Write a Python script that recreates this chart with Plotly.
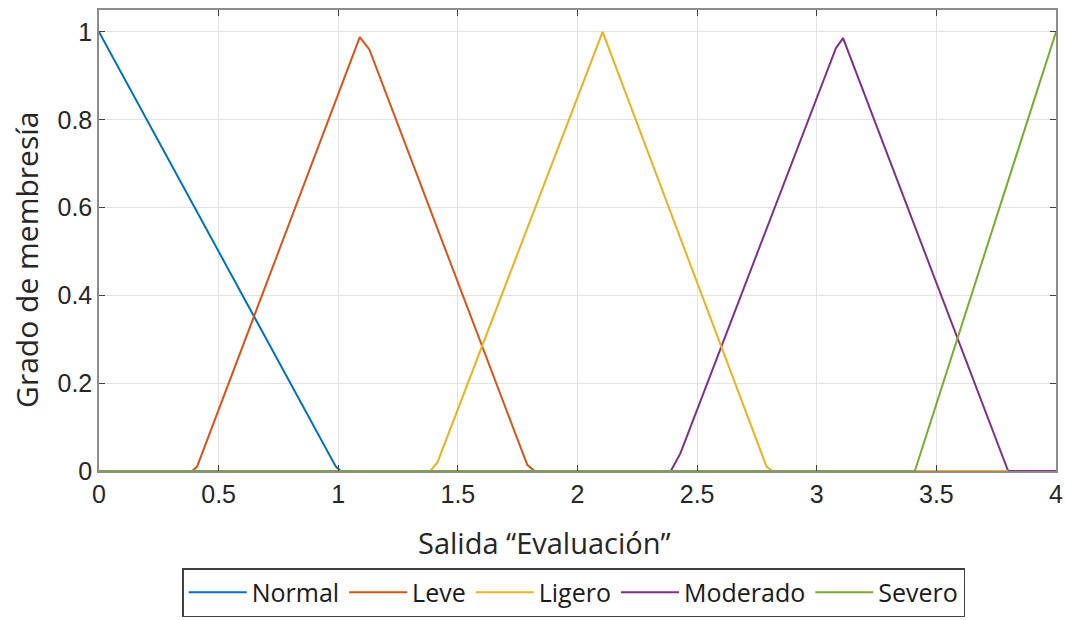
import plotly.graph_objects as go

# Membership functions of the output "Evaluación" (vertex points of each curve)
normal_x = [0.0, 0.99, 1.01, 4.0]
normal_y = [1.0, 0.01, 0.0, 0.0]

leve_x = [0.0, 0.39, 0.41, 1.09, 1.13, 1.79, 1.82, 4.0]
leve_y = [0.0, 0.0, 0.01, 0.988, 0.96, 0.014, 0.0, 0.0]

ligero_x = [0.0, 1.385, 1.415, 2.105, 2.79, 2.815, 3.8]
ligero_y = [0.0, 0.0, 0.02, 1.0, 0.01, 0.0, 0.0]

moderado_x = [0.0, 2.39, 2.43, 3.08, 3.11, 3.80, 4.0]
moderado_y = [0.0, 0.0, 0.04, 0.963, 0.986, 0.0, 0.0]

severo_x = [0.0, 3.41, 4.0]
severo_y = [0.0, 0.0, 1.0]

x_ticks = [0, 0.5, 1, 1.5, 2, 2.5, 3, 3.5, 4]
x_tick_text = ["0", "0.5", "1", "1.5", "2", "2.5", "3", "3.5", "4"]
y_ticks = [0, 0.2, 0.4, 0.6, 0.8, 1]
y_tick_text = ["0", "0.2", "0.4", "0.6", "0.8", "1"]

x_title = "Salida \u201cEvaluación\u201d"
y_title = "Grado de membresía"

# (name, x, y, colour, legend rank) in drawing order
series = [
    ("Normal", normal_x, normal_y, "#0072BD", 1),
    ("Leve", leve_x, leve_y, "#D95319", 2),
    ("Moderado", moderado_x, moderado_y, "#7E2F8E", 4),
    ("Ligero", ligero_x, ligero_y, "#EDB120", 3),
    ("Severo", severo_x, severo_y, "#77AC30", 5),
]

fig = go.Figure()
for name, xs, ys, color, rank in series:
    fig.add_trace(go.Scatter(
        x=xs, y=ys, mode="lines", name=name,
        line=dict(color=color, width=2),
        legendrank=rank,
    ))

axis_common = dict(
    showline=True, linecolor="#8c8c8c", linewidth=1.5, mirror="ticks",
    showgrid=True, gridcolor="#e3e3e3", gridwidth=1,
    ticks="inside", ticklen=6, tickcolor="#404040",
    zeroline=False, automargin=False,
    tickfont=dict(family="Liberation Sans, Arial, sans-serif", size=25, color="#262626"),
)

fig.update_xaxes(range=[0, 4], tickmode="array", tickvals=x_ticks,
                 ticktext=x_tick_text, **axis_common)
fig.update_yaxes(range=[0, 1.05], tickmode="array", tickvals=y_ticks,
                 ticktext=y_tick_text, **axis_common)

title_font = dict(family="Open Sans, sans-serif", color="#262626")
fig.add_annotation(
    text=x_title, xref="paper", yref="paper", x=0.466, y=-0.156,
    xanchor="center", yanchor="middle", showarrow=False,
    font=dict(size=29, **title_font),
)
fig.add_annotation(
    text=y_title, xref="paper", yref="paper", x=-0.0752, y=0.458,
    xanchor="center", yanchor="middle", textangle=-90, showarrow=False,
    font=dict(size=30, **title_font),
)

fig.update_layout(
    width=1065, height=620,
    margin=dict(l=99, r=9, t=10, b=149),
    plot_bgcolor="white", paper_bgcolor="white",
    showlegend=True,
    legend=dict(
        orientation="h", x=0.496, xanchor="center",
        yref="container", y=1 - 617 / 620, yanchor="bottom",
        bordercolor="#404040", borderwidth=1.5, bgcolor="white",
        font=dict(family="Open Sans, sans-serif", size=25, color="#1a1a1a"),
        itemwidth=58, tracegroupgap=0,
    ),
)

fig.write_html("out.html")
